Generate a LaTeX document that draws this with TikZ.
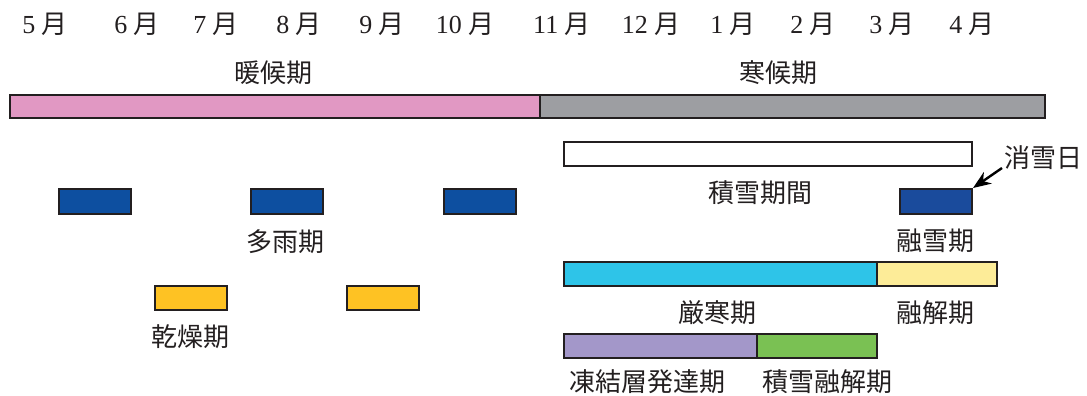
\documentclass[tikz,border=0pt]{standalone}
\usepackage{fontspec}
\setmainfont{Liberation Serif}
\newfontfamily\cjk{Noto Sans CJK JP}
\usetikzlibrary{arrows.meta}
\definecolor{edgegray}{HTML}{231F20}
\definecolor{warmpink}{HTML}{E198C3}
\definecolor{coldgray}{HTML}{9D9EA2}
\definecolor{rainblue}{HTML}{0D4FA0}
\definecolor{meltblue}{HTML}{1A4B9C}
\definecolor{dryyellow}{HTML}{FEC223}
\definecolor{icecyan}{HTML}{2EC4E8}
\definecolor{thawyellow}{HTML}{FDEC98}
\definecolor{frostpurple}{HTML}{A397C9}
\definecolor{snowgreen}{HTML}{7AC153}
\tikzset{
  bar/.style={draw=edgegray, line width=1pt},
  lbl/.style={inner sep=0pt, text=edgegray, font=\fontsize{13}{15}\selectfont\cjk},
  month/.style={inner sep=0pt, text=edgegray, font=\fontsize{13}{15}\selectfont}
}
\begin{document}
\begin{tikzpicture}[x=0.5pt, y=-0.5pt]
  \useasboundingbox (0,0) rectangle (1087,396);
  % months
  \foreach \m/\x in {5/45, 6/137, 7/216, 8/299, 9/382, 10/465,
                     11/562, 12/651, 1/733, 2/813, 3/892, 4/972}
    \node[month] (m\m) at (\x, 24) {\m\ {\cjk 月}};
  % seasons
  \node[lbl] (warm) at (273, 73) {暖候期};
  \node[lbl] (cold) at (778, 73) {寒候期};
  \filldraw[bar, fill=warmpink] (10, 95) rectangle (540, 118);
  \filldraw[bar, fill=coldgray] (540, 95) rectangle (1045, 118);
  % snow cover
  \filldraw[bar, fill=white] (564, 142) rectangle (972, 166);
  \node[lbl] (cover) at (760, 193) {積雪期間};
  \filldraw[bar, fill=meltblue] (900, 189) rectangle (972, 214);
  \coordinate (meltcorner) at (973, 188);
  \node[lbl] (melt) at (935, 241) {融雪期};
  \node[lbl, anchor=west] (snowend) at (1004, 158) {消雪日};
  \draw[line width=1.2pt, -{Stealth[length=9pt, width=7pt]}]
    (snowend.west) ++(-2, 10) -- (meltcorner);
  % rain and dry
  \foreach \x in {59, 251, 444}
    \filldraw[bar, fill=rainblue] (\x, 189) rectangle ++(72, 25);
  \node[lbl] (rain) at (285, 242) {多雨期};
  \foreach \x in {155, 347}
    \filldraw[bar, fill=dryyellow] (\x, 286) rectangle ++(72, 24);
  \node[lbl] (dry) at (190, 337) {乾燥期};
  % cold and thaw
  \filldraw[bar, fill=icecyan] (564, 262) rectangle (877, 286);
  \filldraw[bar, fill=thawyellow] (877, 262) rectangle (997, 286);
  \node[lbl] (severe) at (717, 313) {厳寒期};
  \node[lbl] (thaw) at (935, 313) {融解期};
  \filldraw[bar, fill=frostpurple] (564, 334) rectangle (757, 358);
  \filldraw[bar, fill=snowgreen] (757, 334) rectangle (877, 358);
  \node[lbl] (frost) at (647, 382) {凍結層発達期};
  \node[lbl] (snowmelt) at (827, 382) {積雪融解期};
\end{tikzpicture}
\end{document}
